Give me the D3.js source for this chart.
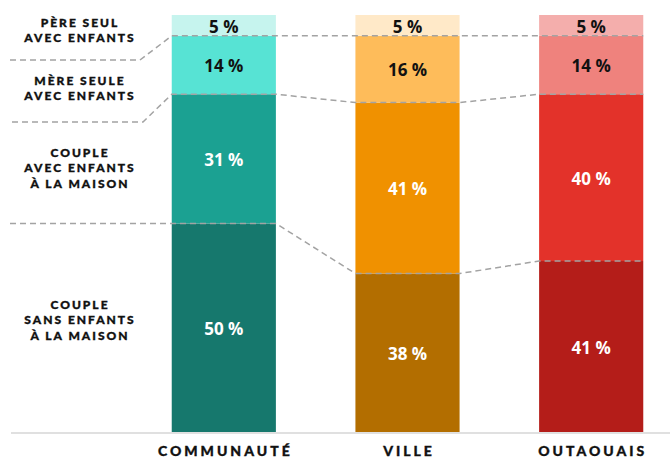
<!DOCTYPE html>
<html>
<head>
<meta charset="utf-8">
<script src="https://cdn.jsdelivr.net/npm/d3@7"></script>
<style>
  body { margin: 0; background: #fff; }
  svg { display: block; }
</style>
</head>
<body>
<div id="chart"></div>
<script>
// data
const categories = ["COMMUNAUTÉ", "VILLE", "OUTAOUAIS"];
const seriesKeys = ["sansEnfants", "avecEnfants", "mereSeule", "pereSeul"];
const sansEnfants = [50, 38, 41];
const avecEnfants = [31, 41, 40];
const mereSeule = [14, 16, 14];
const pereSeul = [5, 5, 5];
const seriesLabels = [
  ["COUPLE", "SANS ENFANTS", "À LA MAISON"],
  ["COUPLE", "AVEC ENFANTS", "À LA MAISON"],
  ["MÈRE SEULE", "AVEC ENFANTS"],
  ["PÈRE SEUL", "AVEC ENFANTS"]
];
const colors = {
  sansEnfants: ["#16786d", "#b36e00", "#b41d19"],
  avecEnfants: ["#1ba192", "#f09100", "#e3322a"],
  mereSeule: ["#57e3d4", "#febc5a", "#ef827d"],
  pereSeul: ["#c6f4ee", "#ffe9c8", "#f4aeac"]
};
const darkText = ["mereSeule", "pereSeul"];

const width = 670, height = 459;

const table = categories.map((c, i) => ({
  cat: c,
  sansEnfants: sansEnfants[i],
  avecEnfants: avecEnfants[i],
  mereSeule: mereSeule[i],
  pereSeul: pereSeul[i]
}));

const stacked = d3.stack().keys(seriesKeys)(table);

const x = d3.scaleBand()
  .domain(categories)
  .range([135, 680])
  .paddingInner(0.433)
  .paddingOuter(0.2);

const y = d3.scaleLinear()
  .domain([0, 100])
  .range([432, 15]);

const svg = d3.select("#chart")
  .append("svg")
  .attr("width", width)
  .attr("height", height);

// bars
stacked.forEach(layer => {
  svg.append("g")
    .selectAll("rect")
    .data(layer)
    .join("rect")
    .attr("x", d => x(d.data.cat))
    .attr("y", d => y(d[1]))
    .attr("width", x.bandwidth())
    .attr("height", d => y(d[0]) - y(d[1]))
    .attr("fill", (d, i) => colors[layer.key][i]);
});

// baseline
svg.append("line")
  .attr("x1", 11).attr("x2", width)
  .attr("y1", y(0) + 1).attr("y2", y(0) + 1)
  .attr("stroke", "#e0e0e0")
  .attr("stroke-width", 2);

// dashed connectors between segment boundaries
// left part: [start x, y of the horizontal run (null = same as boundary), elbow x]
const leftRun = [[10, null, 165], [12, 122, 143], [10, 60, 140]];
stacked.slice(0, 3).forEach((layer, k) => {
  const [sx, sy, ex] = leftRun[k];
  const yy = sy === null ? y(layer[0][1]) : sy;
  const pts = [[sx, yy], [ex, yy]];
  layer.forEach(d => {
    const x0 = x(d.data.cat);
    pts.push([x0, y(d[1])]);
    pts.push([x0 + x.bandwidth(), y(d[1])]);
  });
  svg.append("path")
    .attr("d", d3.line()(pts))
    .attr("fill", "none")
    .attr("stroke", "#a3a3a3")
    .attr("stroke-width", 1.5)
    .attr("stroke-dasharray", "6,4");
});

// value labels
stacked.forEach(layer => {
  svg.append("g")
    .selectAll("text")
    .data(layer)
    .join("text")
    .attr("x", d => x(d.data.cat) + x.bandwidth() / 2)
    .attr("y", d => (y(d[0]) + y(d[1])) / 2 + 1)
    .attr("dy", "0.36em")
    .attr("text-anchor", "middle")
    .attr("font-family", "'Open Sans', sans-serif")
    .attr("font-weight", 700)
    .attr("font-size", 17)
    .attr("fill", darkText.includes(layer.key) ? "#111" : "#fff")
    .text(d => (d[1] - d[0]) + " %");
});

// series labels on the left
const labelY = [320, 168, 88, 30];
seriesLabels.forEach((lines, k) => {
  const t = svg.append("text")
    .attr("text-anchor", "middle")
    .attr("font-family", "Lato, sans-serif")
    .attr("font-weight", 900)
    .attr("font-size", 12)
    .attr("letter-spacing", 2)
    .attr("fill", "#111")
    .attr("stroke", "#111")
    .attr("stroke-width", 0.35);
  const n = lines.length;
  lines.forEach((s, j) => {
    t.append("tspan")
      .attr("x", 80)
      .attr("y", labelY[k] + (j - (n - 1) / 2) * 15.5)
      .attr("dy", "0.36em")
      .text(s);
  });
});

// category axis labels
svg.append("g")
  .selectAll("text")
  .data(categories)
  .join("text")
  .attr("x", d => x(d) + x.bandwidth() / 2 + 1.5)
  .attr("y", 456)
  .attr("text-anchor", "middle")
  .attr("font-family", "Lato, sans-serif")
  .attr("font-weight", 900)
  .attr("font-size", 14)
  .attr("letter-spacing", 3)
  .attr("fill", "#111")
  .attr("stroke", "#111")
  .attr("stroke-width", 0.35)
  .text(d => d);
</script>
</body>
</html>
